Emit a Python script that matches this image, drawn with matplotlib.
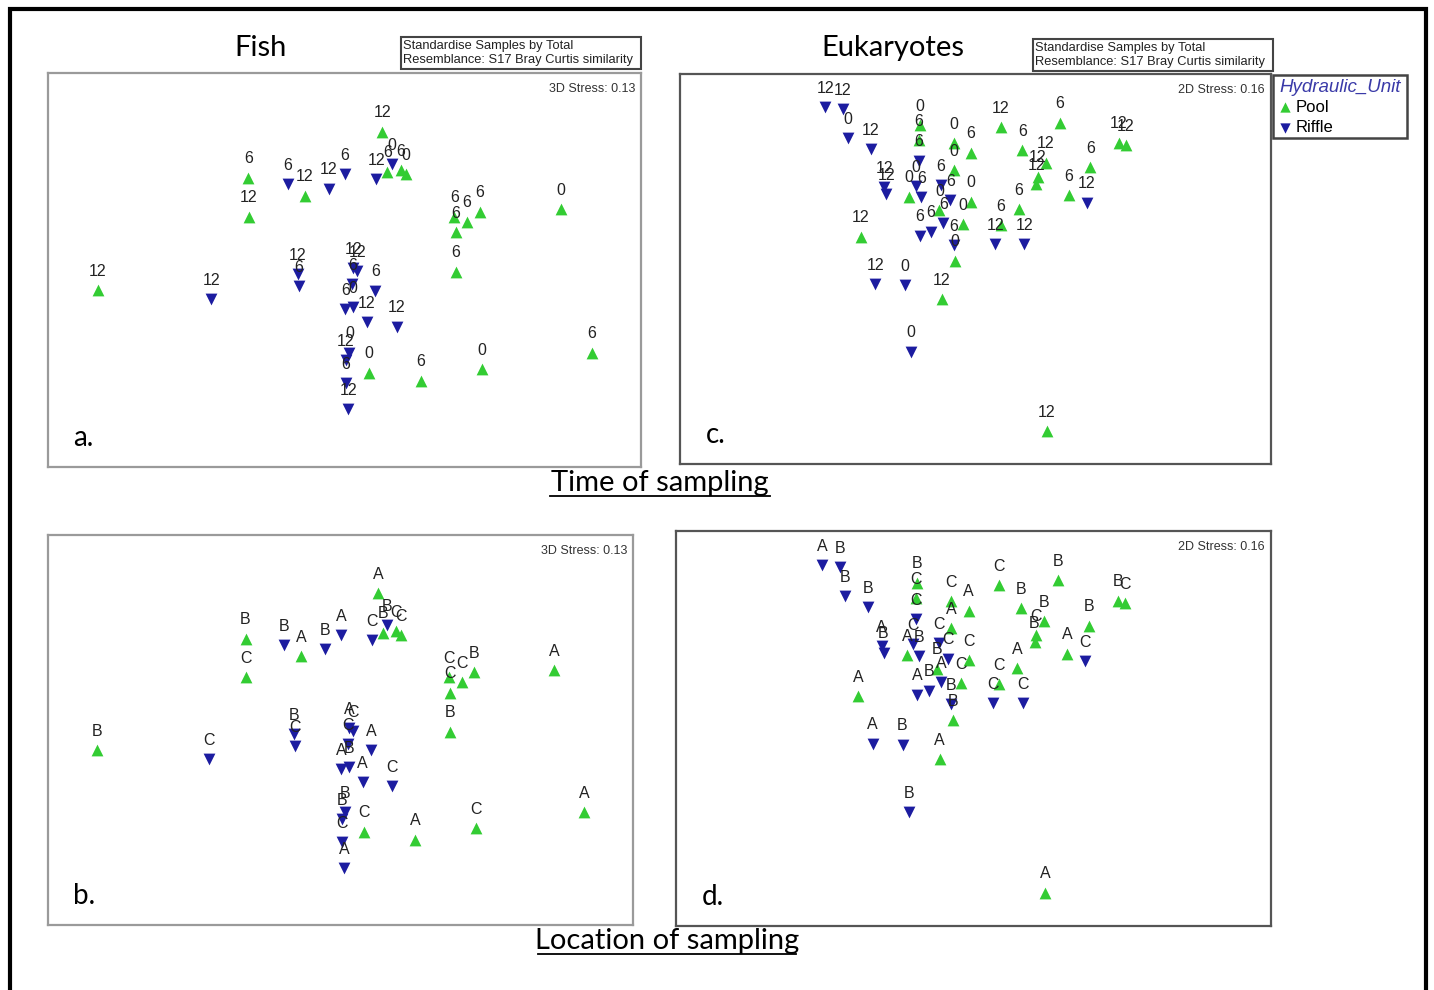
import matplotlib
matplotlib.use("Agg")
import matplotlib.pyplot as plt
from matplotlib.lines import Line2D
from matplotlib.patches import Rectangle

W, H = 1434, 990

# ---- Fish nMDS (ordination units, y grows downward) ----
fish_x = [148, 440, 535, 537, 636, 680, 742, 784, 864, 880,
          893, 905, 928, 940, 1065, 1098, 1130, 1068, 1340, 1068,
          662, 665, 805, 815, 803, 862, 785, 805, 840, 917,
          795, 786, 786, 792, 845, 978, 1136, 1418]
fish_y = [660, 688, 323, 440, 342, 377, 356, 313, 327, 185,
          305, 283, 300, 312, 440, 455, 425, 487, 418, 605,
          612, 648, 595, 603, 642, 662, 718, 712, 757, 770,
          848, 870, 940, 1018, 908, 932, 897, 848]
fish_unit = list("PRPPRPRRRP" "PRPPPPPPPP" "RRRRRRRRRR" "RRRRPPPP")
fish_time = ["12", "12", "6", "12", "6", "12", "12", "6", "12", "12",
             "6", "0", "6", "0", "6", "6", "6", "6", "0", "6",
             "12", "6", "12", "12", "6", "6", "6", "0", "12", "12",
             "0", "12", "6", "12", "0", "6", "0", "6"]
fish_site = list("BCBCBABACA" "BBCCCCBCAB" "BCACCAABAC" "BBCACACA")

# ---- Eukaryote nMDS ----
euk_x = [318, 355, 366, 414, 518, 516, 516, 590, 626, 690,
         815, 736, 940, 955, 880, 872, 834, 785, 768, 765,
         728, 690, 678, 740, 393, 424, 487, 565, 500, 788,
         590, 593, 443, 447, 510, 496, 522, 590, 563, 583,
         626, 560, 610, 568, 542, 518]
euk_y = [112, 118, 205, 237, 165, 210, 272, 220, 248, 172,
         158, 240, 218, 225, 292, 398, 375, 278, 320, 342,
         418, 465, 522, 522, 500, 642, 645, 687, 845, 1083,
         525, 572, 352, 372, 348, 380, 382, 300, 345, 390,
         395, 420, 462, 460, 485, 497]
euk_unit = list("RRRRPPRPPP" "PPPPPRPPPP" "PPRRPRRPRP" "RPRRRPRPRR" "PPPRRR")
euk_time = ["12", "12", "0", "12", "0", "6", "6", "0", "6", "12",
            "6", "6", "12", "12", "6", "12", "6", "12", "12", "12",
            "6", "6", "12", "12", "12", "12", "0", "12", "0", "12",
            "6", "0", "12", "12", "0", "0", "6", "0", "6", "6",
            "0", "0", "0", "6", "6", "6"]
euk_site = list("ABBBBCCCAC" "BBBCBCABCB" "ACCCAABABA" "BBABCABACC" "CBCABA")

fish_lim = ((20, 1545), (1191, 9))
euk_lim = ((10, 1263), (1182, 12))

green = "#33cc33"
blue = "#1c1ca0"
title_font = ["Lato", "DejaVu Sans"]

plt.rcParams['font.family'] = ['Liberation Sans', 'DejaVu Sans']
fig = plt.figure(figsize=(W / 100, H / 100), dpi=100)
fig.patch.set_facecolor("white")

# outer frame
fig.add_artist(Rectangle((10 / W, -0.02), 1416 / W, 1 - 9 / H + 0.02,
                         transform=fig.transFigure, fill=False,
                         edgecolor="black", linewidth=3))


def px_axes(x0, y0, x1, y1):
    return fig.add_axes([x0 / W, 1 - y1 / H, (x1 - x0) / W, (y1 - y0) / H])


def panel(box, xs, ys, units, labels, lim, stress, letter, edge):
    ax = px_axes(*box)
    ax.set_xlim(*lim[0])
    ax.set_ylim(*lim[1])
    ax.set_xticks([])
    ax.set_yticks([])
    for s in ax.spines.values():
        s.set_color(edge)
        s.set_linewidth(1.6)
    px = [x for x, u in zip(xs, units) if u == "P"]
    py = [y for y, u in zip(ys, units) if u == "P"]
    rx = [x for x, u in zip(xs, units) if u == "R"]
    ry = [y for y, u in zip(ys, units) if u == "R"]
    ax.scatter(px, py, marker="^", s=72, color=green, linewidths=0, zorder=3)
    ax.scatter(rx, ry, marker="v", s=72, color=blue, linewidths=0, zorder=3)
    for x, y, t in zip(xs, ys, labels):
        ax.annotate(t, (x, y), xytext=(0, 13.5), textcoords="offset points",
                    ha="center", va="center", fontsize=11.5, color="#222222",
                    zorder=4)
    ax.text(0.99, 0.975, stress, transform=ax.transAxes, ha="right", va="top",
            fontsize=9, color="#333333")
    ax.text(0.043, 0.04, letter, transform=ax.transAxes, ha="left",
            va="bottom", fontsize=20, family=title_font)
    return ax


panel((48, 73, 641, 467), fish_x, fish_y, fish_unit, fish_time, fish_lim,
      "3D Stress: 0.13", "a.", "#9a9a9a")
panel((48, 535, 633, 925), fish_x, fish_y, fish_unit, fish_site, fish_lim,
      "3D Stress: 0.13", "b.", "#9a9a9a")
panel((680, 74, 1271, 464), euk_x, euk_y, euk_unit, euk_time, euk_lim,
      "2D Stress: 0.16", "c.", "#555555")
panel((676, 531, 1271, 926), euk_x, euk_y, euk_unit, euk_site, euk_lim,
      "2D Stress: 0.16", "d.", "#555555")

# titles
fig.text(261 / W, 1 - 48 / H, "Fish", ha="center", va="center", fontsize=21,
         family=title_font)
fig.text(893 / W, 1 - 48 / H, "Eukaryotes", ha="center", va="center",
         fontsize=21, family=title_font)

# resemblance boxes
for bx, by in [(401, 37), (1033, 39)]:
    fig.add_artist(Rectangle((bx / W, 1 - (by + 32) / H), 240 / W, 32 / H,
                             transform=fig.transFigure, fill=False,
                             edgecolor="#444444", linewidth=1.5))
    fig.text((bx + 2) / W, 1 - (by + 8.5) / H, "Standardise Samples by Total",
             ha="left", va="center", fontsize=9.3, color="#222222")
    fig.text((bx + 2) / W, 1 - (by + 23.5) / H,
             "Resemblance: S17 Bray Curtis similarity",
             ha="left", va="center", fontsize=9.3, color="#222222")

# legend
fig.add_artist(Rectangle((1273 / W, 1 - 138 / H), 134 / W, 63 / H,
                         transform=fig.transFigure, fill=False,
                         edgecolor="#444444", linewidth=1.8))
fig.text(1279 / W, 1 - 87 / H, "Hydraulic_Unit", ha="left", va="center",
         fontsize=13.5, style="italic", color="#3a3aa8")
leg_ax = fig.add_axes([1273 / W, 1 - 138 / H, 134 / W, 63 / H])
leg_ax.set_axis_off()
leg_ax.set_xlim(0, 134)
leg_ax.set_ylim(63, 0)
leg_ax.scatter([12], [32], marker="^", s=55, color=green, linewidths=0)
leg_ax.scatter([12], [53], marker="v", s=55, color=blue, linewidths=0)
leg_ax.text(23, 32, "Pool", ha="left", va="center", fontsize=12)
leg_ax.text(23, 53, "Riffle", ha="left", va="center", fontsize=12)

# section captions with underline
for cx, cy, txt, ux0, ux1 in [(660, 483, "Time of sampling", 550, 770),
                              (667, 941, "Location of sampling", 538, 796)]:
    fig.text(cx / W, 1 - cy / H, txt, ha="center", va="center", fontsize=21,
             family=title_font)
    fig.add_artist(Line2D([ux0 / W, ux1 / W], [1 - (cy + 13) / H] * 2,
                          transform=fig.transFigure, color="black",
                          linewidth=1.3))

fig.savefig("out.png", dpi=100, facecolor="white")
